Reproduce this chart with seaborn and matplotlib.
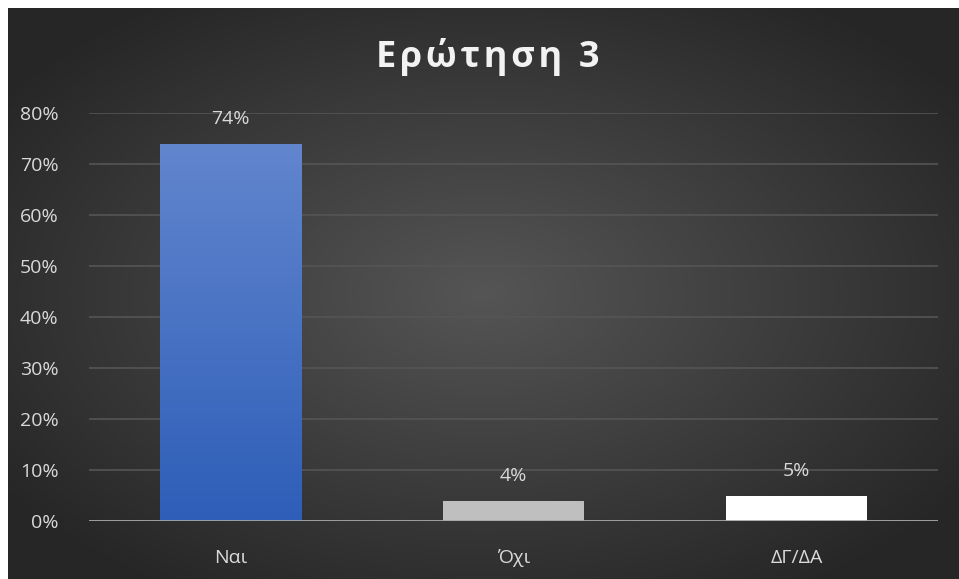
import numpy as np
import pandas as pd
import matplotlib
matplotlib.use("Agg")
import matplotlib.pyplot as plt
import matplotlib.ticker as tkr
import seaborn as sns

# Data
categories = ["Ναι", "Όχι", "ΔΓ/ΔΑ"]
shares = [0.74, 0.04, 0.05]
bar_colors = ["#4A72C4", "#BFBFBF", "#FFFFFF"]
y_ticks = [0, 0.1, 0.2, 0.3, 0.4, 0.5, 0.6, 0.7, 0.8]
title = "Ερώτηση 3"

df = pd.DataFrame({"answer": categories, "share": shares})

sns.set_theme(style="dark")
plt.rcParams["font.family"] = ["Open Sans", "DejaVu Sans"]

W, H = 959, 579
fig = plt.figure(figsize=(W / 100, H / 100), dpi=100)
fig.patch.set_facecolor("white")

# dark radial gradient background (with the thin white margin on top/left)
bg = fig.add_axes([8 / W, 0, 1 - 8 / W, 1 - 8 / H], zorder=-10)
yy, xx = np.mgrid[0:1:300j, 0:1:500j]
r = np.sqrt(((xx - 0.5) / 0.62) ** 2 + ((yy - 0.5) / 0.62) ** 2)
r = np.clip(r, 0, 1)
c0, c1 = 0x55 / 255, 0x26 / 255
shade = c0 + (c1 - c0) * r
bg.imshow(np.dstack([shade, shade, shade]), aspect="auto", extent=[0, 1, 0, 1])
bg.set_axis_off()

ax = fig.add_axes([89 / W, 1 - 521 / H, (938 - 89) / W, (521 - 113) / H])
ax.set_facecolor("none")

sns.barplot(data=df, x="answer", y="share", hue="answer", palette=bar_colors,
            width=0.5, legend=False, ax=ax, saturation=1, linewidth=0, zorder=3)

# vertical gradient on the first bar
p = ax.patches[0]
x0, y0 = p.get_x(), p.get_y()
w, h = p.get_width(), p.get_height()
top = np.array([0x62, 0x86, 0xCE]) / 255
bot = np.array([0x2E, 0x5E, 0xB8]) / 255
t = np.linspace(0, 1, 256)[:, None]
grad = (top * (1 - t) + bot * t)[:, None, :]
im = ax.imshow(grad, extent=[x0, x0 + w, y0, y0 + h], aspect="auto", zorder=4)
im.set_clip_path(p)
ax.set_xlim(-0.5, 2.5)
ax.set_ylim(0, 0.8)

# value labels
for i, v in enumerate(shares):
    ax.text(i, v + 0.048, f"{v:.0%}", ha="center", va="center",
            color="#D9D9D9", fontsize=14)

ax.set_yticks(y_ticks)
ax.yaxis.set_major_formatter(tkr.PercentFormatter(1.0, decimals=0))
ax.grid(axis="y", color="#555555", linewidth=1.2, zorder=0)
ax.grid(axis="x", visible=False)
ax.axhline(0, color="#A6A6A6", linewidth=2, zorder=5)
for s in ax.spines.values():
    s.set_visible(False)
ax.tick_params(axis="both", colors="#D9D9D9", labelsize=14, length=0)
ax.tick_params(axis="y", pad=22)
ax.tick_params(axis="x", pad=20)
ax.set_xlabel("")
ax.set_ylabel("")

fig.text(488 / W, 1 - 57 / H, "\u200a".join(title), ha="center", va="center",
         color="#F2F2F2", fontsize=26, fontweight="bold")

fig.savefig("out.png", dpi=100, facecolor=fig.get_facecolor())
